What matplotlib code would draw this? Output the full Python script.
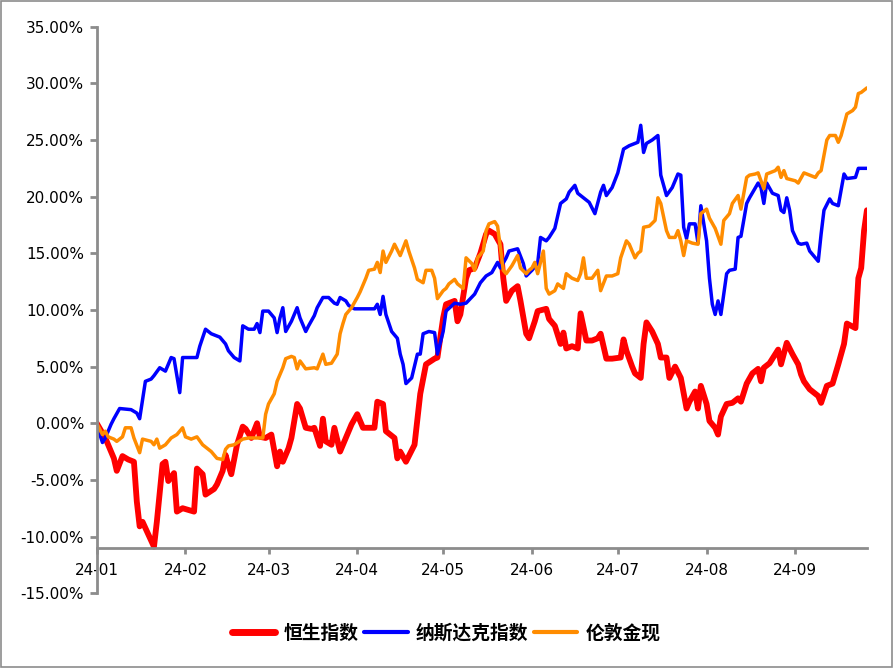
import numpy as np
import matplotlib
matplotlib.use("Agg")
import matplotlib.pyplot as plt
import matplotlib.dates as mdates
from matplotlib.patches import Rectangle

# day offsets from 2024-01-01 and cumulative returns (%)
hsi_days = [0, 3, 6, 7, 9, 11, 13, 14, 15, 16, 18, 20, 21, 23, 24, 25, 27, 28, 30, 34,
            35, 37, 38, 41, 42, 44, 45, 46, 47, 49, 51, 52, 54, 56, 57, 59, 61, 63, 64, 65,
            67, 68, 70, 71, 73, 75, 76, 78, 79, 80, 82, 83, 85, 87, 89, 91, 93, 97, 98, 100,
            101, 104, 105, 106, 108, 111, 113, 115, 118, 119, 121, 122, 125, 126, 127, 129, 130, 132, 134, 136,
            137, 139, 141, 142, 143, 145, 147, 148, 150, 151, 153, 154, 157, 158, 160, 162, 163, 164, 166, 168,
            169, 171, 173, 175, 176, 178, 180, 183, 184, 185, 187, 188, 190, 191, 192, 194, 196, 197, 199, 200,
            202, 204, 206, 207, 209, 210, 211, 213, 214, 216, 217, 218, 220, 222, 224, 225, 227, 229, 231, 232,
            233, 235, 237, 238, 239, 241, 243, 245, 246, 247, 249, 252, 253, 255, 257, 259, 261, 262, 265, 266,
            267, 268, 269]
hsi_vals = [0.0, -1.3, -3.1, -4.2, -2.9, -3.2, -3.4, -6.9, -9.1, -8.7, -9.8, -10.9, -8.7, -3.6, -3.4, -5.1, -4.4, -7.8, -7.5, -7.8,
            -4.0, -4.5, -6.3, -5.8, -5.4, -4.2, -2.8, -3.7, -4.5, -1.9, -0.3, -0.5, -1.3, 0.0, -1.2, -1.3, -1.0, -3.8, -2.5, -3.4,
            -2.2, -1.3, 1.7, 1.3, -0.4, -0.5, -0.4, -2.0, 0.4, -1.6, -1.9, -0.4, -2.5, -1.3, -0.1, 0.8, -0.4, -0.4, 1.9, 1.7,
            -0.7, -1.3, -3.1, -2.5, -3.4, -1.9, 2.6, 5.2, 5.7, 5.8, 9.3, 10.5, 10.8, 9.0, 9.6, 12.8, 13.5, 13.7, 15.0, 16.7,
            17.0, 16.7, 15.8, 12.8, 10.8, 11.7, 12.1, 10.8, 7.9, 7.5, 9.0, 9.9, 10.1, 9.2, 8.6, 7.0, 8.0, 6.6, 6.8, 6.6,
            9.7, 7.3, 7.3, 7.5, 7.9, 5.7, 5.7, 5.8, 7.4, 6.4, 5.0, 4.4, 4.0, 7.0, 8.9, 8.1, 7.0, 5.8, 5.8, 4.0,
            5.0, 4.0, 1.3, 1.9, 2.8, 1.3, 3.3, 1.7, 0.2, -0.4, -1.0, 0.6, 1.7, 1.8, 2.2, 1.9, 3.5, 4.4, 4.8, 3.7,
            4.9, 5.3, 6.1, 6.5, 5.2, 7.1, 6.1, 5.2, 4.3, 3.7, 3.0, 2.4, 1.8, 3.3, 3.5, 5.2, 7.0, 8.8, 8.4, 12.8,
            13.7, 17.0, 18.8]

ndx_days = [0, 2, 3, 5, 6, 8, 12, 14, 15, 17, 19, 20, 22, 24, 26, 27, 29, 30, 33, 35,
            36, 38, 40, 43, 45, 46, 48, 50, 51, 53, 55, 56, 57, 58, 60, 62, 63, 64, 65, 66,
            68, 70, 71, 73, 74, 76, 77, 79, 81, 83, 84, 85, 87, 88, 90, 93, 97, 98, 99, 100,
            101, 103, 105, 106, 107, 108, 110, 112, 113, 114, 116, 118, 119, 121, 122, 125, 127, 129, 132, 134,
            136, 138, 140, 141, 143, 144, 147, 149, 150, 152, 154, 155, 157, 158, 160, 162, 164, 165, 167, 168,
            170, 172, 174, 176, 177, 178, 180, 182, 184, 186, 189, 190, 191, 192, 194, 196, 197, 199, 201, 203,
            204, 205, 206, 207, 209, 210, 211, 213, 214, 215, 216, 217, 218, 220, 221, 223, 224, 225, 227, 228,
            231, 232, 233, 234, 236, 238, 239, 240, 241, 242, 243, 245, 246, 248, 249, 252, 253, 254, 256, 257,
            259, 261, 262, 265, 266, 268, 269]
ndx_vals = [-0.1, -1.7, -1.3, -0.1, 0.4, 1.3, 1.2, 0.9, 0.4, 3.7, 3.9, 4.2, 4.9, 4.6, 5.8, 5.7, 2.7, 5.8, 5.8, 5.8,
            6.8, 8.3, 7.9, 7.6, 7.0, 6.4, 5.8, 5.5, 8.6, 8.3, 8.3, 8.8, 8.0, 9.9, 9.9, 9.3, 8.0, 9.3, 10.2, 8.1,
            9.0, 10.2, 9.3, 8.1, 8.6, 9.5, 10.2, 11.1, 11.1, 10.6, 10.5, 11.1, 10.8, 10.4, 10.1, 10.1, 10.1, 10.5, 9.6, 11.2,
            9.6, 8.1, 7.5, 6.1, 5.2, 3.5, 4.0, 6.1, 6.1, 7.9, 8.1, 8.0, 6.1, 8.1, 9.9, 10.6, 10.5, 10.6, 11.4, 12.4,
            13.0, 13.3, 14.2, 13.7, 14.6, 15.2, 15.4, 14.1, 13.0, 13.5, 14.1, 16.4, 16.1, 16.4, 17.2, 19.4, 19.8, 20.4, 21.0, 20.3,
            19.9, 19.5, 18.5, 20.4, 21.0, 20.1, 20.8, 22.1, 24.2, 24.5, 24.8, 26.3, 23.9, 24.7, 25.0, 25.4, 21.9, 20.1, 20.8, 22.0,
            21.9, 17.3, 16.3, 17.6, 17.6, 15.9, 19.2, 16.1, 12.8, 10.5, 9.6, 10.8, 9.6, 13.2, 13.5, 13.6, 16.4, 16.5, 19.4, 19.9,
            21.2, 20.8, 19.4, 21.2, 20.3, 20.1, 18.8, 18.6, 19.9, 18.8, 17.0, 15.9, 15.8, 15.9, 15.2, 14.3, 16.7, 18.8, 19.8, 19.4,
            19.2, 22.0, 21.6, 21.7, 22.5, 22.5, 22.5]

gold_days = [0, 2, 3, 4, 6, 7, 9, 10, 12, 13, 15, 16, 19, 20, 21, 22, 24, 26, 28, 30,
             31, 33, 35, 37, 40, 42, 44, 45, 46, 48, 51, 53, 56, 58, 59, 60, 62, 63, 65, 66,
             68, 69, 70, 71, 73, 76, 77, 79, 80, 82, 84, 85, 86, 87, 89, 91, 92, 94, 95, 97,
             98, 99, 100, 101, 103, 104, 106, 108, 109, 111, 112, 114, 115, 117, 118, 119, 121, 122, 123, 125,
             126, 128, 129, 131, 132, 133, 135, 136, 137, 139, 140, 142, 143, 145, 147, 148, 150, 151, 152, 153,
             154, 156, 157, 158, 160, 161, 163, 164, 166, 168, 169, 170, 171, 173, 175, 176, 178, 180, 182, 183,
             185, 186, 188, 189, 190, 191, 193, 195, 196, 197, 199, 200, 202, 203, 204, 205, 206, 208, 210, 211,
             213, 214, 216, 218, 219, 221, 222, 224, 225, 227, 228, 230, 231, 233, 234, 235, 237, 238, 239, 240,
             241, 244, 245, 247, 249, 251, 252, 253, 255, 256, 258, 259, 260, 262, 264, 265, 266, 267, 269]
gold_vals = [0.0, -1.0, -0.7, -1.2, -1.4, -1.6, -1.2, -0.4, -0.4, -1.3, -2.6, -1.4, -1.6, -1.9, -1.4, -2.2, -1.9, -1.3, -1.0, -0.4,
             -1.2, -1.4, -1.2, -1.9, -2.5, -3.1, -3.2, -2.3, -2.0, -1.9, -1.4, -1.3, -1.3, -1.3, 0.8, 1.7, 2.6, 3.7, 4.9, 5.7,
             5.9, 5.8, 4.8, 5.5, 4.8, 4.9, 4.8, 6.1, 5.2, 5.3, 6.1, 7.9, 8.8, 9.6, 10.2, 11.1, 11.6, 12.8, 13.5, 13.6,
             14.2, 13.3, 15.2, 14.2, 15.2, 15.8, 14.8, 16.1, 15.2, 13.7, 12.7, 12.4, 13.5, 13.5, 12.8, 11.0, 11.7, 11.9, 12.3, 12.7,
             12.3, 11.9, 14.6, 14.1, 13.5, 14.6, 15.2, 17.0, 17.6, 17.8, 17.4, 13.5, 13.2, 13.9, 14.8, 13.7, 13.2, 13.5, 13.7, 14.2,
             13.2, 15.2, 11.9, 11.4, 11.7, 12.3, 11.9, 13.2, 12.8, 12.6, 13.2, 14.6, 12.8, 12.8, 13.5, 11.7, 13.0, 13.0, 13.2, 14.6,
             16.1, 15.8, 14.6, 15.0, 15.2, 17.3, 17.4, 17.9, 19.9, 19.4, 17.0, 16.4, 16.4, 17.0, 16.1, 14.8, 16.1, 15.9, 15.8, 18.5,
             18.9, 18.1, 17.2, 15.8, 17.9, 18.5, 19.4, 20.1, 18.9, 21.7, 21.9, 22.0, 22.1, 20.7, 22.0, 22.1, 22.3, 22.6, 21.7, 22.3,
             21.6, 21.4, 21.2, 22.1, 21.9, 21.7, 22.1, 22.3, 25.0, 25.4, 25.4, 24.8, 25.4, 27.3, 27.6, 27.9, 29.1, 29.2, 29.6]

series_names = ["恒生指数", "纳斯达克指数", "伦敦金现"]
series_colors = ["#FF0000", "#0000FF", "#FF8C00"]
series_widths = [4.2, 2.5, 2.5]

base = np.datetime64("2024-01-01")


def to_dates(days):
    return base + np.array(days, dtype="timedelta64[D]")


fig = plt.figure(figsize=(8.93, 6.68), dpi=100)
fig.patch.set_facecolor("white")
fig.patches.append(Rectangle((0.0015, 0.002), 0.997, 0.996, transform=fig.transFigure,
                             fill=False, edgecolor="#8c8c8c", linewidth=1.2))

ax = fig.add_axes([0.1083, 0.112, 0.8625, 0.848])

data = [(hsi_days, hsi_vals), (ndx_days, ndx_vals), (gold_days, gold_vals)]
for (d, v), name, c, w in zip(data, series_names, series_colors, series_widths):
    ax.plot(to_dates(d), v, color=c, linewidth=w, label=name,
            solid_joinstyle="round", solid_capstyle="round")

# --- axes formatting ---
ax.set_ylim(-15, 35)
ax.set_yticks(np.arange(-15, 36, 5))
ax.yaxis.set_major_formatter(matplotlib.ticker.FuncFormatter(lambda v, p: f"{v:.2f}%"))
ax.set_xlim(base, base + np.timedelta64(269, "D"))
ax.xaxis.set_major_locator(mdates.MonthLocator())
ax.xaxis.set_major_formatter(mdates.DateFormatter("%y-%m"))

for s in ["top", "right"]:
    ax.spines[s].set_visible(False)
ax.spines["bottom"].set_position(("data", -11.0))
for s in ["left", "bottom"]:
    ax.spines[s].set_color("#8c8c8c")
    ax.spines[s].set_linewidth(2.0)

ax.tick_params(axis="y", direction="out", length=5, width=2.0, color="#8c8c8c",
               labelsize=11, pad=4, labelcolor="black")
ax.tick_params(axis="x", direction="out", length=4, width=2.0, color="#8c8c8c",
               labelsize=11, pad=7, labelcolor="black")

leg = fig.legend(loc="center", bbox_to_anchor=(0.5, 0.052), ncol=3, frameon=False,
                 prop={"family": ["Noto Sans CJK SC", "DejaVu Sans"], "size": 13.5, "weight": "bold"},
                 handlelength=2.3, handletextpad=0.45, columnspacing=0.3)
for line in leg.get_lines():
    line.set_solid_capstyle("round")
leg.get_lines()[0].set_linewidth(5)
leg.get_lines()[1].set_linewidth(3)
leg.get_lines()[2].set_linewidth(3)

plt.savefig("out.png", dpi=100)
